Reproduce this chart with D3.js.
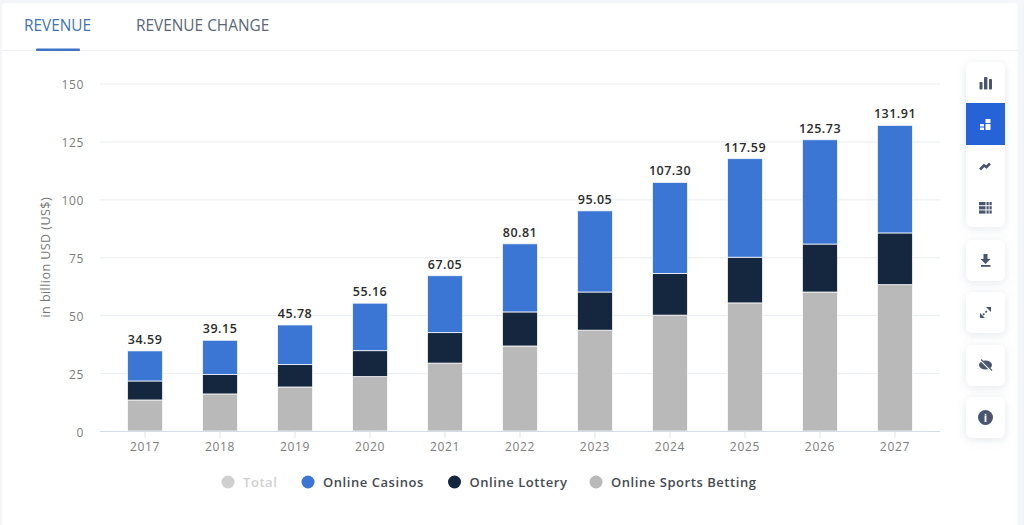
<!DOCTYPE html>
<html>
<head>
<meta charset="utf-8">
<script src="https://cdn.jsdelivr.net/npm/d3@7"></script>
<style>
  html, body { margin: 0; padding: 0; background: #fff; overflow: hidden; }
  text { font-family: "Open Sans", sans-serif; }
</style>
</head>
<body>
<div id="vis"></div>
<script>
const WIDTH = 1024;
const HEIGHT = 525;
const MARGIN = { LEFT: 100, RIGHT: 84, TOP: 83.5, BOTTOM: 94 };
const BAND_LEFT = 107.5;
const BAND_RIGHT = 932.5;

const years = ["2017", "2018", "2019", "2020", "2021", "2022", "2023", "2024", "2025", "2026", "2027"];
const sportsBetting = [13.4, 16.0, 19.0, 23.5, 29.3, 36.7, 43.5, 50.0, 55.3, 60.0, 63.2];
const onlineLottery = [8.2, 8.4, 9.7, 11.2, 13.2, 14.7, 16.5, 18.0, 19.7, 20.7, 22.3];
const onlineCasinos = [12.99, 14.75, 17.08, 20.46, 24.55, 29.41, 35.05, 39.3, 42.59, 45.03, 46.41];
const totals = ["34.59", "39.15", "45.78", "55.16", "67.05", "80.81", "95.05", "107.30", "117.59", "125.73", "131.91"];
const yTicks = [0, 25, 50, 75, 100, 125, 150];
const seriesNames = ["Online Sports Betting", "Online Lottery", "Online Casinos"];
const legendNames = ["Total", "Online Casinos", "Online Lottery", "Online Sports Betting"];
const colors = ["#b9b9b9", "#14273f", "#3c76d4"];
const legendColors = ["#cfcfcf", "#3c76d4", "#14273f", "#b9b9b9"];

const rows = years.map((y, i) => ({
  year: y,
  "Online Sports Betting": sportsBetting[i],
  "Online Lottery": onlineLottery[i],
  "Online Casinos": onlineCasinos[i],
  total: totals[i],
}));

const svg = d3.select("#vis").append("svg").attr("width", WIDTH).attr("height", HEIGHT);

const defs = svg.append("defs");
const blur = defs.append("filter").attr("id", "shadow").attr("x", "-40%").attr("y", "-40%").attr("width", "180%").attr("height", "180%");
blur.append("feDropShadow").attr("dx", 0).attr("dy", 2).attr("stdDeviation", 5).attr("flood-color", "#8c96a8").attr("flood-opacity", 0.22);

// page frame around the card
svg.append("rect").attr("width", WIDTH).attr("height", HEIGHT).attr("fill", "#f3f5f9");
svg.append("rect").attr("x", 2).attr("y", 3).attr("width", 1016).attr("height", HEIGHT).attr("rx", 4).attr("fill", "#fff");

// tabs
svg.append("text").attr("x", 24).attr("y", 31).attr("font-size", 15.4).attr("font-weight", 500).attr("fill", "#3f74b9").text("REVENUE");
svg.append("text").attr("x", 136).attr("y", 31).attr("font-size", 15.4).attr("font-weight", 500).attr("fill", "#5a6678").text("REVENUE CHANGE");
svg.append("line").attr("x1", 2).attr("x2", 1018).attr("y1", 50.5).attr("y2", 50.5).attr("stroke", "#f0f1f4");
svg.append("rect").attr("x", 36).attr("y", 48.5).attr("width", 44).attr("height", 2.5).attr("rx", 1).attr("fill", "#3f74c4");

// scales
const x = d3.scaleBand().domain(years).range([BAND_LEFT, BAND_RIGHT]).paddingInner(0.533).paddingOuter(0.267);
const y = d3.scaleLinear().domain([0, 150]).range([HEIGHT - MARGIN.BOTTOM, MARGIN.TOP]);

// grid and y axis
const yAxis = svg.append("g")
  .attr("transform", `translate(${MARGIN.LEFT},0)`)
  .call(d3.axisLeft(y).tickValues(yTicks).tickSize(-(WIDTH - MARGIN.LEFT - MARGIN.RIGHT)).tickPadding(16));
yAxis.select(".domain").remove();
yAxis.selectAll("line").attr("stroke", "#e9ecf0");
yAxis.selectAll("text").attr("font-size", 12).attr("dy", "0.42em").attr("letter-spacing", 0.6).attr("fill", "#7d7d7d").style("font-family", '"Open Sans", sans-serif');

svg.append("text")
  .attr("transform", `translate(50,${y(75)}) rotate(-90)`)
  .attr("text-anchor", "middle")
  .attr("font-size", 12.5)
  .attr("letter-spacing", 0.45)
  .attr("fill", "#777")
  .text("in billion USD (US$)");

// stacked bars
const stacked = d3.stack().keys(seriesNames)(rows);
svg.append("g").selectAll("g")
  .data(stacked)
  .enter()
  .append("g")
  .attr("fill", (d, i) => colors[i])
  .selectAll("rect")
  .data((d) => d)
  .enter()
  .append("rect")
  .attr("x", (d) => x(d.data.year))
  .attr("y", (d) => y(d[1]))
  .attr("width", x.bandwidth())
  .attr("height", (d) => y(d[0]) - y(d[1]))
  .attr("stroke", "#fff")
  .attr("stroke-opacity", 0.75)
  .attr("stroke-width", 1);

// x axis, the line runs the full grid width
const xAxis = svg.append("g")
  .attr("transform", `translate(0,${y(0)})`)
  .call(d3.axisBottom(x).tickSize(7).tickPadding(4).tickSizeOuter(0));
xAxis.select(".domain").attr("d", `M${MARGIN.LEFT},0.5H${WIDTH - MARGIN.RIGHT}`).attr("stroke", "#d5dde6").attr("stroke-width", 1.2);
xAxis.selectAll("line").attr("stroke", "#dfe4ea");
xAxis.selectAll("text").attr("font-size", 12).attr("letter-spacing", 0.7).attr("fill", "#7d7d7d").style("font-family", '"Open Sans", sans-serif');

// totals on top of the bars
svg.append("g").selectAll("text")
  .data(rows)
  .enter()
  .append("text")
  .attr("x", (d) => x(d.year) + x.bandwidth() / 2)
  .attr("y", (d) => y(+d.total) - 7)
  .attr("text-anchor", "middle")
  .attr("font-size", 12.5)
  .attr("font-weight", 600)
  .attr("letter-spacing", 0.5)
  .attr("fill", "#2b2b2b")
  .text((d) => d.total);

// legend
const legendX = [228, 308, 454.5, 596];
const legend = svg.append("g").selectAll("g")
  .data(legendNames)
  .enter()
  .append("g")
  .attr("transform", (d, i) => `translate(${legendX[i]},482)`);
legend.append("circle").attr("r", 6.5).attr("fill", (d, i) => legendColors[i]);
legend.append("text")
  .attr("x", 15)
  .attr("y", 4.5)
  .attr("font-size", 13)
  .attr("font-weight", 600)
  .attr("letter-spacing", 0.55)
  .attr("fill", (d, i) => (i === 0 ? "#cfcfcf" : "#444a52"))
  .text((d) => d);

// toolbar on the right
const ICON = "#4a5670";
const tools = svg.append("g");
const panel = (py, ph) => tools.append("rect").attr("x", 966).attr("y", py).attr("width", 39).attr("height", ph)
  .attr("rx", 6).attr("fill", "#fff").attr("filter", "url(#shadow)");
panel(62, 165);
panel(240, 41);
panel(292, 41);
panel(345, 41);
panel(397, 41);
tools.append("rect").attr("x", 966).attr("y", 103).attr("width", 39).attr("height", 42).attr("fill", "#2563d6");

// column chart icon
[[979.5, 82, 3, 7.5], [984, 77, 3.4, 12.5], [989, 79, 3, 10.5]].forEach((r) =>
  tools.append("rect").attr("x", r[0]).attr("y", r[1]).attr("width", r[2]).attr("height", r[3]).attr("rx", 0.8).attr("fill", ICON));
// stacked icon
[[980, 124, 4, 2.5], [980, 127.5, 4, 2.5], [985.5, 119, 5, 4], [985.5, 124, 5, 6]].forEach((r) =>
  tools.append("rect").attr("x", r[0]).attr("y", r[1]).attr("width", r[2]).attr("height", r[3]).attr("rx", 0.6).attr("fill", "#fff"));
// line icon
tools.append("path").attr("d", "M980 169.5 L984 165.5 L986.5 167 L990 163.5").attr("fill", "none").attr("stroke", ICON).attr("stroke-width", 2.6);
// table icon
d3.range(3).forEach((row) => {
  tools.append("rect").attr("x", 979).attr("y", 202 + row * 4.2).attr("width", 6.5).attr("height", 3.2).attr("fill", ICON);
  d3.range(2).forEach((col) =>
    tools.append("rect").attr("x", 986.5 + col * 3).attr("y", 202 + row * 4.2).attr("width", 2.2).attr("height", 3.2).attr("fill", ICON));
});
// download icon
tools.append("path").attr("d", "M983.5 254 h4 v5 h3 l-5 5 l-5 -5 h3 z").attr("fill", ICON);
tools.append("rect").attr("x", 981).attr("y", 265).attr("width", 9.5).attr("height", 1.8).attr("fill", ICON);
// expand icon
tools.append("path").attr("d", "M980 318 v-5 l5 5 z M991 307 v5 l-5 -5 z").attr("fill", ICON);
tools.append("path").attr("d", "M983 315 L988 310").attr("stroke", ICON).attr("stroke-width", 1.6).attr("stroke-dasharray", "2 1.5");
// hidden eye icon
tools.append("ellipse").attr("cx", 985.5).attr("cy", 365).attr("rx", 6.5).attr("ry", 4.6).attr("fill", ICON);
tools.append("path").attr("d", "M980 359.5 L991 370.5").attr("stroke", "#fff").attr("stroke-width", 1.8);
tools.append("path").attr("d", "M981 359.5 L992 370.5").attr("stroke", ICON).attr("stroke-width", 1.1);
// info icon
tools.append("circle").attr("cx", 985.5).attr("cy", 417.5).attr("r", 7.5).attr("fill", ICON);
tools.append("text").attr("x", 985.5).attr("y", 421.5).attr("text-anchor", "middle").attr("font-size", 11).attr("font-weight", 700).attr("fill", "#fff").text("i");
</script>
</body>
</html>
